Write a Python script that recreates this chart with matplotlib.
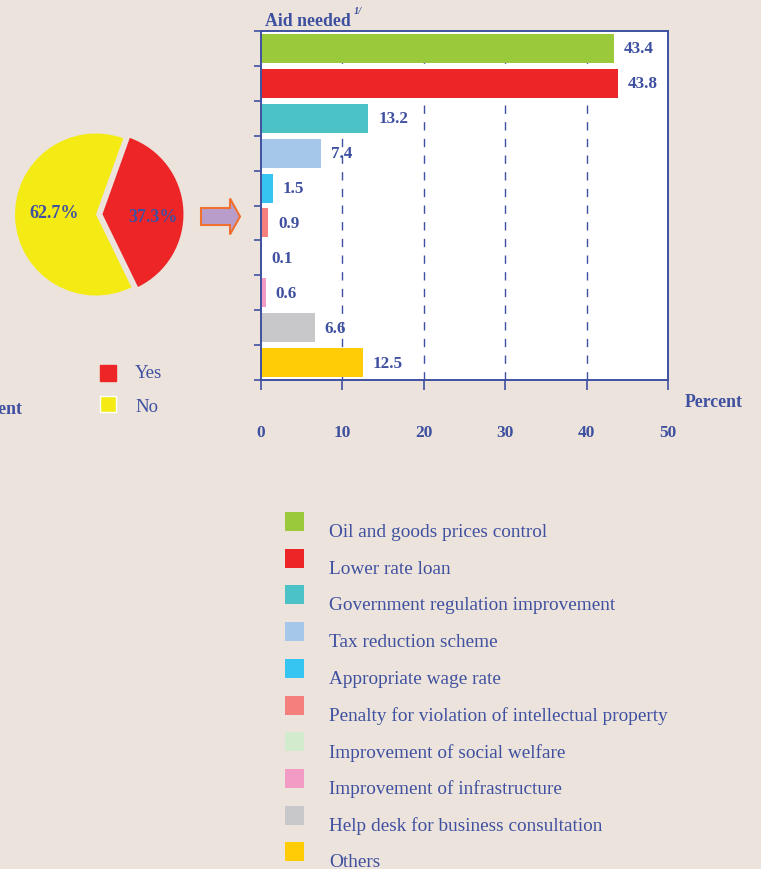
import matplotlib
matplotlib.use('Agg')
import matplotlib.pyplot as plt
from matplotlib.patches import Rectangle, FancyArrow

plt.rcParams['font.family'] = ['Liberation Serif', 'DejaVu Serif']

# share of firms needing aid
pie_labels = ['Yes', 'No']
pie_values = [37.3, 62.7]
pie_colors = ['#ee2527', '#f5eb14']

# kind of aid needed (percent)
aid_labels = ['Oil and goods prices control', 'Lower rate loan',
              'Government regulation improvement', 'Tax reduction scheme',
              'Appropriate wage rate',
              'Penalty for violation of intellectual property',
              'Improvement of social welfare', 'Improvement of infrastructure',
              'Help desk for business consultation', 'Others']
aid_values = [43.4, 43.8, 13.2, 7.4, 1.5, 0.9, 0.1, 0.6, 6.6, 12.5]
aid_colors = ['#9aca3c', '#ee2527', '#4bc2c5', '#a5c8ea', '#36c5f0',
              '#f47f7c', '#d2ebcc', '#f29bc4', '#c8c8ca', '#ffcc05']
x_ticks = [0, 10, 20, 30, 40, 50]

bg = '#ece4dc'
blue = '#3f50a0'
W, H = 761, 870


def px_box(x0, y0, x1, y1):
    # pixel box (top-left origin) -> figure fraction rect
    return [x0 / W, 1 - y1 / H, (x1 - x0) / W, (y1 - y0) / H]


fig = plt.figure(figsize=(W / 100, H / 100), dpi=100, facecolor=bg)

# ---- pie ----
r = 81.0
cx, cy = 96, 215.5
pax = fig.add_axes(px_box(cx - 1.15 * r, cy - 1.2 * r, cx + 1.25 * r, cy + 1.2 * r))
pax.set_facecolor(bg)
wedges, texts, autotexts = pax.pie(pie_values, colors=pie_colors, explode=[0.08, 0],
                                   startangle=-64, autopct='%.1f%%',
                                   wedgeprops=dict(linewidth=0))
# label spots inside each wedge
autotexts[0].set_position((0.70, -0.02))
autotexts[1].set_position((-0.52, 0.03))
for t in autotexts:
    t.set_color(blue)
    t.set_fontweight('bold')
    t.set_fontsize(13)
pax.set_xlim(-1.15, 1.25)
pax.set_ylim(-1.2, 1.2)
pax.set_aspect('equal')
pax.axis('off')

# arrow to the bar chart
fig.patches.append(FancyArrow(201 / W, 1 - 217.5 / H, 29 / W, 0, width=17 / H,
                              head_width=36 / H, head_length=10 / W,
                              length_includes_head=False, transform=fig.transFigure,
                              facecolor='#b89dcb', edgecolor='#f07030', linewidth=1.5))

# pie legend
for i, (lab, col) in enumerate(zip(pie_labels, pie_colors)):
    yc = 374 + 30.5 * i
    fig.patches.append(Rectangle((99.5 / W, 1 - (yc + 8) / H), 16 / W, 16 / H,
                                 transform=fig.transFigure, facecolor=col,
                                 edgecolor='white' if i else col, linewidth=1))
    fig.text(135 / W, 1 - (yc + 3 * i) / H, lab, color=blue, fontsize=13.5,
             va='center')
fig.text(23 / W, 1 - 410 / H, 'Percent', color=blue, fontsize=12.8, fontweight='bold',
         ha='right', va='center')

# ---- bars ----
ax = fig.add_axes(px_box(261, 32, 668, 381))
ax.set_facecolor('white')
ypos = list(range(len(aid_values)))
ax.barh(ypos, aid_values, height=0.83, color=aid_colors, zorder=2)
for y, v in zip(ypos, aid_values):
    ax.annotate(f'{v:.1f}', (v, y), xytext=(7, 0), textcoords='offset points',
                va='center', ha='left', color=blue, fontsize=12.3, fontweight='bold')
ax.set_xlim(0, 50)
ax.set_ylim(len(aid_values) - 0.5, -0.5)
ax.set_xticks(x_ticks)
ax.set_xticklabels([str(t) for t in x_ticks])
ax.set_yticks([i - 0.5 for i in range(len(aid_values) + 1)])
ax.set_yticklabels([])
ax.tick_params(axis='x', direction='out', length=7, width=1.2, color=blue,
               labelcolor=blue, labelsize=12.5, pad=25)
ax.tick_params(axis='y', direction='out', length=5, width=1.2, color=blue)
for lab in ax.get_xticklabels():
    lab.set_fontweight('bold')
for s in ax.spines.values():
    s.set_color(blue)
    s.set_linewidth(1.4)
for t in x_ticks[1:-1]:
    ax.axvline(t, color=blue, linewidth=1, dashes=(6, 6), zorder=1)

fig.text(265 / W, 1 - 22 / H, 'Aid needed', color=blue, fontsize=12.8,
         fontweight='bold', va='center')
fig.text(354 / W, 1 - 12 / H, '1/', color=blue, fontsize=7.5, fontweight='bold',
         va='center', style='italic')
fig.text(714 / W, 1 - 403 / H, 'Percent', color=blue, fontsize=12.8,
         fontweight='bold', ha='center', va='center')

# ---- category legend ----
for i, (lab, col) in enumerate(zip(aid_labels, aid_colors)):
    yc = 522.5 + 36.7 * i
    fig.patches.append(Rectangle((285 / W, 1 - (yc + 9.5) / H), 19 / W, 19 / H,
                                 transform=fig.transFigure, facecolor=col,
                                 edgecolor='none'))
    fig.text(329 / W, 1 - (yc + 10) / H, lab, color=blue, fontsize=13.9, va='center')

fig.savefig('out.png', dpi=100, facecolor=bg)
